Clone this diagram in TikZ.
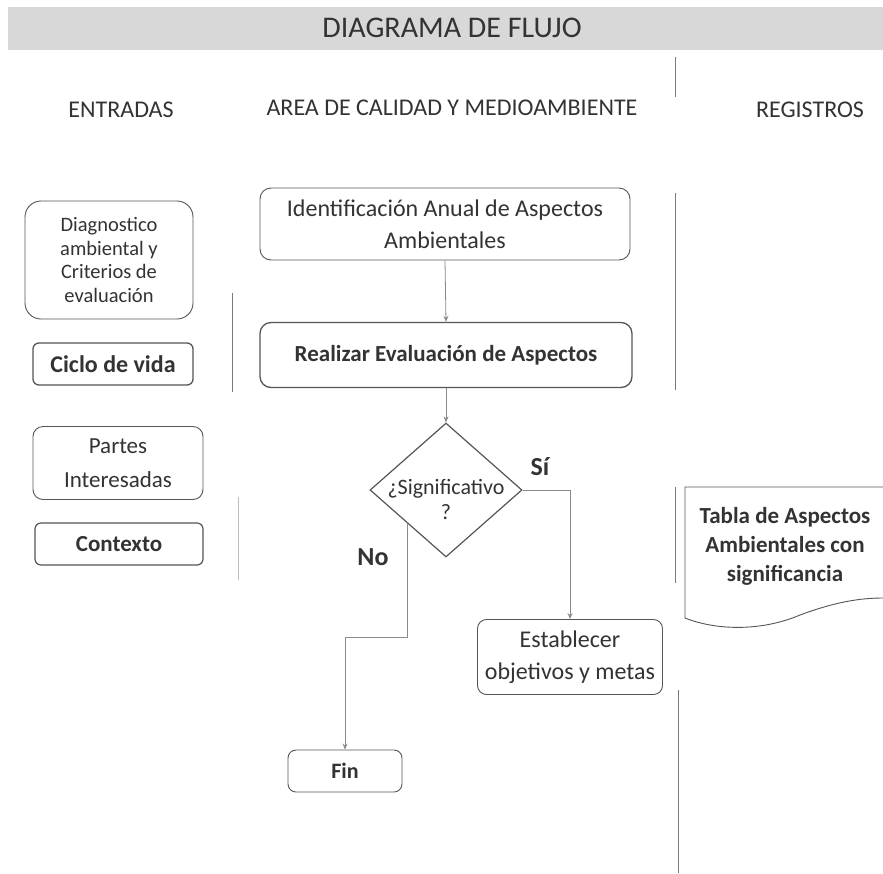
\documentclass[tikz,border=0pt]{standalone}
\usepackage{fontspec}
\setmainfont{Carlito}
\usetikzlibrary{shapes.geometric,arrows.meta,calc}
\definecolor{band}{HTML}{D8D8D8}
\definecolor{txt}{HTML}{333333}
\definecolor{bord}{HTML}{555555}
\definecolor{conn}{HTML}{8A8A8A}
\definecolor{lane}{HTML}{7A7A7A}
\tikzset{
  box/.style={draw=bord, line width=0.9pt, rounded corners=9pt, align=center, text=txt, inner sep=1pt},
  boldbox/.style={box, line width=1.3pt, font=\bfseries},
  conn/.style={draw=conn, line width=0.8pt, -{Stealth[length=6pt,width=5pt]}},
  lanel/.style={draw=lane, line width=0.9pt},
  head/.style={text=txt, font=\fontsize{24}{28}\selectfont},
  lbl/.style={text=txt, font=\fontsize{26}{28}\selectfont\bfseries}
}
\begin{document}
\begin{tikzpicture}[x=1pt,y=-1pt]
\useasboundingbox (0,0) rectangle (883,873);
\fill[white] (0,0) rectangle (883,873);
% title band
\fill[band] (8,7) rectangle (883,50);
\node[text=txt, font=\fontsize{30}{34}\selectfont] (title) at (452,28) {DIAGRAMA DE FLUJO};
% headers
\node[head] (h1) at (121,110) {ENTRADAS};
\node[head] (h2) at (452,108) {AREA DE CALIDAD Y MEDIOAMBIENTE};
\node[head] (h3) at (810,110) {REGISTROS};
% lane lines
\draw[lanel] (675,57) -- (675,97);
\draw[lanel] (675,193) -- (675,390);
\draw[lanel] (675,487) -- (675,583);
\draw[lanel] (678,690) -- (678,873);
\draw[lanel] (232,293) -- (232,392);
\draw[lane!50, line width=0.8pt] (238,497) -- (238,580);
% inputs
\node[box, rounded corners=16pt, minimum width=168pt, minimum height=118pt,
      font=\fontsize{20.5}{23.5}\selectfont] (diag) at (109,260)
      {Diagnostico\\ambiental y\\Criterios de\\evaluación};
\node[boldbox, rounded corners=6pt, minimum width=160pt, minimum height=42pt,
      font=\fontsize{24}{26}\selectfont\bfseries] (ciclo) at (113,364) {Ciclo de vida};
\node[box, rounded corners=10pt, minimum width=170pt, minimum height=73pt,
      font=\fontsize{23}{34}\selectfont] (partes) at (118,463) {Partes\\Interesadas};
\node[box, line width=1.2pt, rounded corners=6pt, minimum width=168pt, minimum height=42pt,
      font=\fontsize{23}{26}\selectfont\bfseries] (contexto) at (119,544) {Contexto};
% process
\node[box, rounded corners=11pt, minimum width=370pt, minimum height=72pt,
      font=\fontsize{24}{32}\selectfont] (ident) at (445,224)
      {Identificación Anual de Aspectos\\Ambientales};
\node[boldbox, rounded corners=11pt, minimum width=372pt, minimum height=65pt,
      font=\fontsize{23}{26}\selectfont\bfseries] (real) at (446,355)
      {Realizar Evaluación de Aspectos};
\node[draw=bord, line width=1.2pt, diamond, minimum width=152pt, minimum height=134pt,
      inner sep=0pt,
      label={[align=center, text=txt, font=\fontsize{22}{25}\selectfont, yshift=-9pt]center:{¿Significativo\\?}}] (dia) at (446,490) {};
\node[box, rounded corners=9pt, minimum width=185pt, minimum height=75pt,
      font=\fontsize{24}{32}\selectfont] (estab) at (570,657)
      {Establecer\\objetivos y metas};
\node[box, rounded corners=8pt, minimum width=114pt, minimum height=42pt,
      font=\fontsize{22}{24}\selectfont\bfseries] (fin) at (345,771) {Fin};
% document
\draw[draw=bord, line width=0.9pt] (883,487) -- (685,487) -- (685,618)
   .. controls (715,630) and (760,632) .. (800,615)
   .. controls (835,602) and (860,598) .. (883,598);
\node[align=center, text=txt, font=\fontsize{23}{29}\selectfont\bfseries] (tabla) at (785,546)
   {Tabla de Aspectos\\Ambientales con\\significancia};
% connectors
\draw[conn] (ident.south) -- (real.north);
\draw[conn] (real.south) -- (dia.north);
\draw[conn] (dia.east) -| (estab.north);
\coordinate (nostart) at ($(dia.west)!0.5!(dia.south)$);
\coordinate (nobend) at (nostart |- 0,637);
\draw[conn] (nostart) -- (nobend) -| (fin.north);
\node[lbl] (si) at (540,467) {Sí};
\node[lbl] (no) at (373,557) {No};
\end{tikzpicture}
\end{document}
